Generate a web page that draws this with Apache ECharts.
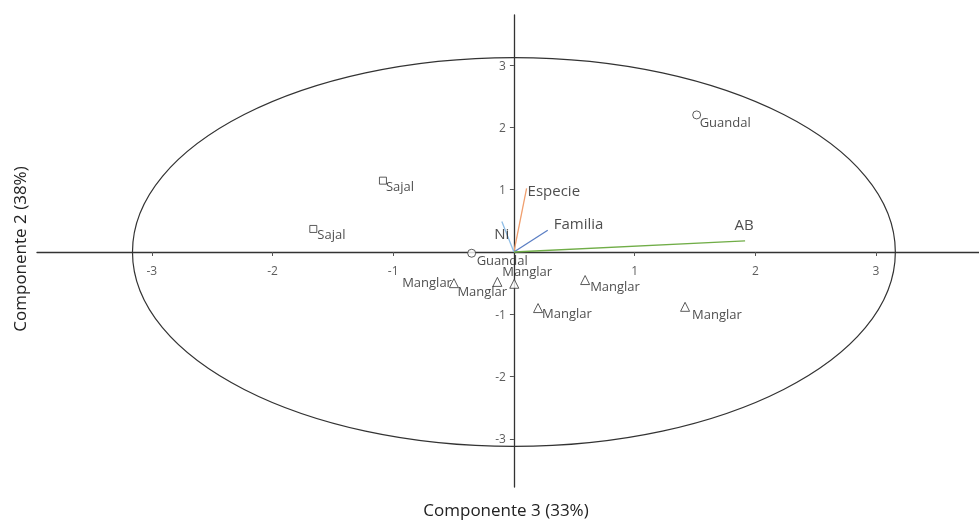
<!DOCTYPE html>
<html>
<head>
<meta charset="utf-8">
<script src="https://cdn.jsdelivr.net/npm/echarts@6/dist/echarts.min.js"></script>
<style>
  html, body { margin: 0; padding: 0; background: #fff; }
  #chart { width: 979px; height: 520px; }
</style>
</head>
<body>
<div id="chart"></div>
<script>
// tick labels
const xTicks = [-3, -2, -1, 1, 2, 3]
const yTicks = [-3, -2, -1, 1, 2, 3]

// scores per group
const manglarNames = ['Manglar', 'Manglar', 'Manglar', 'Manglar', 'Manglar', 'Manglar']
const manglarPts = [[-0.497, -0.50], [-0.137, -0.48], [0.003, -0.51], [0.20, -0.90], [0.59, -0.45], [1.418, -0.88]]
const guandalNames = ['Guandal', 'Guandal']
const guandalPts = [[1.514, 2.20], [-0.35, -0.02]]
const sajalNames = ['Sajal', 'Sajal']
const sajalPts = [[-1.085, 1.145], [-1.662, 0.37]]

// loadings (arrows from origin)
const vectorNames = ['Especie', 'Familia', 'AB', 'Ni']
const vectorEnds = [[0.105, 1.02], [0.28, 0.35], [1.915, 0.18], [-0.10, 0.49]]

// ellipse radii (data units)
const ellipseRadii = [3.16, 3.12]

// label placement (style only)
const manglarLabelPos = [
  { align: 'right', offset: [-2, 0] },
  { align: 'left', offset: [-40, 10] },
  { align: 'left', offset: [-12, -11] },
  { align: 'left', offset: [4, 6] },
  { align: 'left', offset: [5, 7] },
  { align: 'left', offset: [7, 8] }
]
const guandalLabelPos = [{ align: 'left', offset: [3, 8] }, { align: 'left', offset: [5, 8] }]
const sajalLabelPos = [{ align: 'left', offset: [3, 7] }, { align: 'left', offset: [4, 6] }]
const vectorColors = ['#f0a070', '#5b7fc4', '#70ad47', '#8fbde6']
const vectorLabelPos = [
  { align: 'left', offset: [1, 3] },
  { align: 'left', offset: [6, -5] },
  { align: 'center', offset: [-1, -15] },
  { align: 'center', offset: [0, 13] }
]

const font = '"Open Sans", "Noto Sans", sans-serif'

const buildPoints = (pts, names, pos) => pts.map((p, i) => ({
  value: p,
  name: names[i],
  label: {
    show: true,
    position: 'inside',
    align: pos[i].align,
    verticalAlign: 'middle',
    offset: pos[i].offset,
    formatter: '{b}',
    color: '#222',
    fontSize: 13,
    fontFamily: font
  }
}))

const pointStyle = {
  color: '#fff',
  borderColor: '#333',
  borderWidth: 1
}

const hidden = { color: 'rgba(0,0,0,0)' }

const series = []

// ellipse
series.push({
  type: 'custom',
  silent: true,
  clip: false,
  data: [[0, 0]],
  renderItem: (params, api) => {
    const c = api.coord([0, 0])
    const e = api.coord(ellipseRadii)
    return {
      type: 'ellipse',
      shape: { cx: c[0], cy: c[1], rx: e[0] - c[0], ry: c[1] - e[1] },
      style: { fill: 'none', stroke: '#333', lineWidth: 1.2 }
    }
  },
  z: 1
})

// tick labels sitting on the zero lines
series.push({
  type: 'scatter', symbolSize: 1, itemStyle: hidden, silent: true,
  data: xTicks.map(t => [t, 0]),
  label: {
    show: true, position: 'inside', align: 'center', verticalAlign: 'middle',
    offset: [0, 20], formatter: p => String(p.value[0]),
    color: '#333', fontSize: 12, fontFamily: font
  },
  z: 2
})
series.push({
  type: 'scatter', symbolSize: 1, itemStyle: hidden, silent: true,
  data: yTicks.map(t => [0, t]),
  label: {
    show: true, position: 'inside', align: 'right', verticalAlign: 'middle',
    offset: [-8, 1], formatter: p => String(p.value[1]),
    color: '#333', fontSize: 12, fontFamily: font
  },
  z: 2
})

// arrows
vectorEnds.forEach((v, i) => {
  series.push({
    type: 'line',
    data: [[0, 0], v],
    symbol: 'none',
    lineStyle: { color: vectorColors[i], width: 1.3 },
    z: 2
  })
})
series.push({
  type: 'scatter',
  symbolSize: 1,
  itemStyle: hidden,
  data: vectorEnds.map((v, i) => ({
    value: v,
    name: vectorNames[i],
    label: {
      show: true,
      position: 'inside',
      align: vectorLabelPos[i].align,
      verticalAlign: 'middle',
      offset: vectorLabelPos[i].offset,
      formatter: '{b}',
      color: '#222',
      fontSize: 15,
      fontFamily: font
    }
  })),
  z: 3
})

// points
series.push({
  type: 'scatter', symbol: 'triangle', symbolSize: 9,
  itemStyle: pointStyle,
  data: buildPoints(manglarPts, manglarNames, manglarLabelPos), z: 4
})
series.push({
  type: 'scatter', symbol: 'circle', symbolSize: 8,
  itemStyle: pointStyle,
  data: buildPoints(guandalPts, guandalNames, guandalLabelPos), z: 4
})
series.push({
  type: 'scatter', symbol: 'rect', symbolSize: 7,
  itemStyle: pointStyle,
  data: buildPoints(sajalPts, sajalNames, sajalLabelPos), z: 4
})

const chart = echarts.init(document.getElementById('chart'))
chart.setOption({
  animation: false,
  textStyle: { fontFamily: font },
  grid: { left: 37, right: 0, top: 15, bottom: 33, containLabel: false },
  xAxis: {
    type: 'value',
    min: -3.951,
    max: 3.853,
    axisLine: { onZero: true, lineStyle: { color: '#333', width: 1.3 } },
    axisTick: { show: true, customValues: xTicks, length: 4, lineStyle: { color: '#555' } },
    axisLabel: { show: false },
    splitLine: { show: false }
  },
  yAxis: {
    type: 'value',
    min: -3.772,
    max: 3.804,
    axisLine: { onZero: true, lineStyle: { color: '#333', width: 1.3 } },
    axisTick: { show: true, customValues: yTicks, length: 4, lineStyle: { color: '#555' } },
    axisLabel: { show: false },
    splitLine: { show: false }
  },
  graphic: [
    {
      type: 'text', x: 506, y: 511,
      style: { text: 'Componente 3 (33%)', fontSize: 17, fill: '#222', fontFamily: font, align: 'center', verticalAlign: 'middle' }
    },
    {
      type: 'text', x: 21, y: 249, rotation: Math.PI / 2,
      style: { text: 'Componente 2 (38%)', fontSize: 17, fill: '#222', fontFamily: font, align: 'center', verticalAlign: 'middle' }
    }
  ],
  series: series
})
</script>
</body>
</html>
